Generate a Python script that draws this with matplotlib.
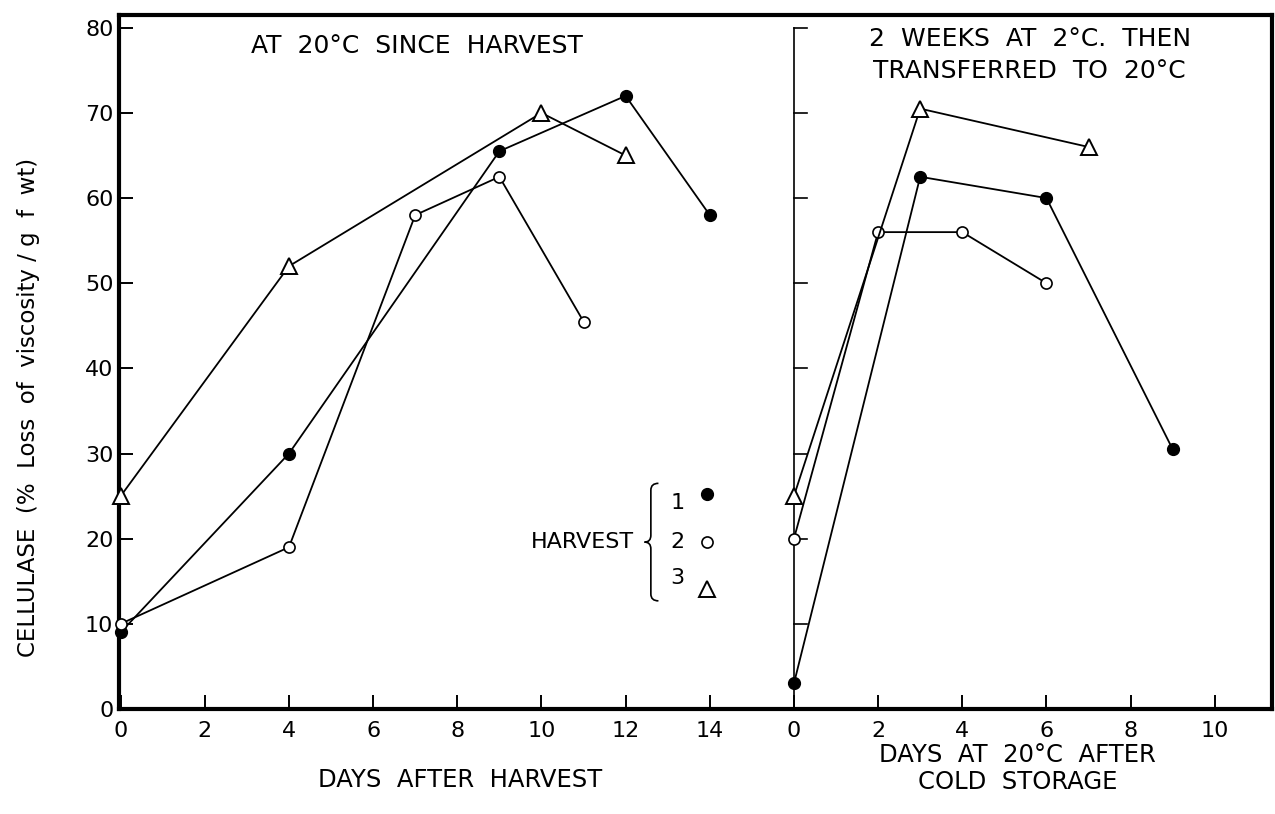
import matplotlib.pyplot as plt
from matplotlib.path import Path
from matplotlib.patches import PathPatch

plt.rcParams['font.family'] = ['DejaVu Sans']

# left panel: days after harvest, held at 20 C
h1_days = [0, 4, 9, 12, 14]
h1_cell = [9, 30, 65.5, 72, 58]
h2_days = [0, 4, 7, 9, 11]
h2_cell = [10, 19, 58, 62.5, 45.5]
h3_days = [0, 4, 10, 12]
h3_cell = [25, 52, 70, 65]

# right panel: days at 20 C after 2 weeks at 2 C
c1_days = [0, 3, 6, 9]
c1_cell = [3, 62.5, 60, 30.5]
c2_days = [0, 2, 4, 6]
c2_cell = [20, 56, 56, 50]
c3_days = [0, 3, 7]
c3_cell = [25, 70.5, 66]

left_ticks = [0, 2, 4, 6, 8, 10, 12, 14]
right_ticks = [0, 2, 4, 6, 8, 10]
y_ticks = [0, 10, 20, 30, 40, 50, 60, 70, 80]
offset = 16  # right panel drawn after the left one on the same axes

styles = {
    1: dict(marker='o', ms=8.5, mfc='black', mec='black'),
    2: dict(marker='o', ms=8, mfc='white', mec='black', mew=1.2),
    3: dict(marker='^', ms=12, mfc='white', mec='black', mew=1.4),
}

fig = plt.figure(figsize=(12.75, 8.14), dpi=100)
ax = fig.add_axes([0.0933, 0.129, 0.904, 0.8526])

series = [
    (h1_days, h1_cell, 1), (h2_days, h2_cell, 2), (h3_days, h3_cell, 3),
    (c1_days, c1_cell, 1), (c2_days, c2_cell, 2), (c3_days, c3_cell, 3),
]
for i, (d, c, h) in enumerate(series):
    xs = [v + (offset if i >= 3 else 0) for v in d]
    ax.plot(xs, c, color='black', lw=1.3, clip_on=False, zorder=3, **styles[h])

ax.set_xlim(-0.04, 27.35)
ax.set_ylim(0, 81.5)
ax.set_xticks(left_ticks + [t + offset for t in right_ticks])
ax.set_xticklabels([str(t) for t in left_ticks + right_ticks])
ax.set_yticks(y_ticks)
ax.tick_params(direction='in', length=10, width=1.4, labelsize=16)
ax.tick_params(axis='x', pad=9)
ax.tick_params(axis='y', pad=4)
for s in ax.spines.values():
    s.set_linewidth(3)

# inner y axis of the right panel
ax.plot([offset, offset], [0, 80], color='black', lw=1.2, zorder=2)
for t in y_ticks[1:]:
    ax.plot([offset, offset + 0.3], [t, t], color='black', lw=1.2, zorder=2)

ax.text(7.04, 77.9, 'AT  20°C  SINCE  HARVEST', ha='center', va='center', fontsize=18)
ax.text(21.6, 76.8, '2  WEEKS  AT  2°C.  THEN\nTRANSFERRED  TO  20°C',
        ha='center', va='center', fontsize=18, linespacing=1.4)

# legend with brace
ax.text(12.2, 19.6, 'HARVEST', ha='right', va='center', fontsize=16)
leg_y = [25.3, 19.6, 14.1]
num_y = [24.2, 19.6, 15.4]
for k, h in enumerate([1, 2, 3]):
    ax.text(13.24, num_y[k], str(h), ha='center', va='center', fontsize=16)
    ax.plot([13.93], [leg_y[k]], color='black', linestyle='none', **styles[h])
bx, top, mid, bot = 12.6, 26.5, 19.6, 12.7
verts = [(bx + 0.18, top), (bx, top), (bx, top - 0.8),
         (bx, mid + 0.8), (bx, mid), (bx - 0.15, mid),
         (bx, mid), (bx, mid - 0.8),
         (bx, bot + 0.8), (bx, bot), (bx + 0.18, bot)]
codes = [Path.MOVETO, Path.CURVE3, Path.CURVE3,
         Path.LINETO, Path.CURVE3, Path.CURVE3,
         Path.CURVE3, Path.CURVE3,
         Path.LINETO, Path.CURVE3, Path.CURVE3]
ax.add_patch(PathPatch(Path(verts, codes), fill=False, lw=1.2, color='black'))

fig.text(0.361, 0.042, 'DAYS  AFTER  HARVEST', ha='center', va='center', fontsize=17.5)
fig.text(0.798, 0.056, 'DAYS  AT  20°C  AFTER\nCOLD  STORAGE', ha='center', va='center',
         fontsize=17.5, linespacing=1.2)
fig.text(0.0225, 0.50, 'CELLULASE  (%  Loss  of  viscosity / g  f  wt)', rotation=90,
         ha='center', va='center', fontsize=16.5)

fig.savefig('out.png', dpi=100)
